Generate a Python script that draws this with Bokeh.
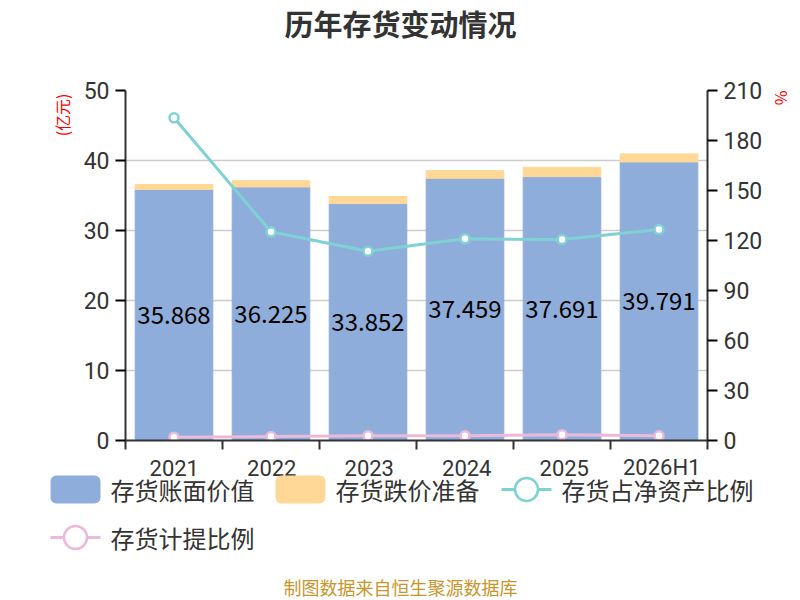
from bokeh.plotting import figure
from bokeh.layouts import column
from bokeh.models import (ColumnDataSource, Range1d, LinearAxis, FixedTicker,
                          LabelSet, Label, Title)
from bokeh.core.properties import value
from bokeh.embed import file_html
from bokeh.resources import INLINE

years = ["2021", "2022", "2023", "2024", "2025", "2026H1"]
book_value = [35.868, 36.225, 33.852, 37.459, 37.691, 39.791]   # 亿元
impairment = [0.70, 0.90, 1.00, 1.10, 1.35, 1.15]               # 亿元
inv_to_equity = [193.6, 125.2, 113.6, 121.0, 120.6, 126.6]      # %
provision_ratio = [1.9, 2.4, 2.9, 2.9, 3.5, 2.8]                # %

series_names = ["存货账面价值", "存货跌价准备", "存货占净资产比例", "存货计提比例"]

FONT = "Noto Sans CJK SC"
NUM_FONT = "Roboto"
BLUE = "#8eadda"
ORANGE = "#ffd897"
CYAN = "#7fd2d4"
PINK = "#ebb9da"
AXIS = "#333333"

W = 800
LEFT, RIGHT = 125, 710          # frame edges in px
TOP_H, MAIN_H, BOT_H = 70, 384, 146

n = len(years)
xs = [i + 0.5 for i in range(n)]
src = ColumnDataSource(dict(
    x=xs,
    book=book_value,
    total=[b + r for b, r in zip(book_value, impairment)],
    mid=[b / 2 for b in book_value],
    label=[f"{b:.3f}" for b in book_value],
    ratio=inv_to_equity,
    prov=provision_ratio,
))


def bare(fig):
    fig.axis.visible = False
    fig.grid.visible = False
    fig.outline_line_color = None
    fig.min_border = 0
    fig.frame_align = False
    return fig


# ---- title strip
top = bare(figure(width=W, height=TOP_H, output_backend="svg", toolbar_location=None,
                  title=None, x_range=Range1d(0, W), y_range=Range1d(0, TOP_H)))
top.add_layout(Label(x=W / 2, y=TOP_H - 22, x_units="screen", y_units="screen",
                     text="历年存货变动情况", text_align="center", text_baseline="middle",
                     text_font=FONT, text_font_size="29px", text_font_style="bold",
                     text_color=AXIS))

# ---- main chart
p = figure(width=W, height=MAIN_H, output_backend="svg", toolbar_location=None,
           x_range=Range1d(0, n), y_range=Range1d(0, 50),
           min_border_left=LEFT, min_border_right=W - RIGHT,
           min_border_top=20, min_border_bottom=MAIN_H - 20 - 350)
p.frame_align = False
p.outline_line_color = None
p.extra_y_ranges = {"pct": Range1d(0, 210)}

p.vbar(x="x", bottom=0, top="book", width=0.8, color=BLUE, source=src)
p.vbar(x="x", bottom="book", top="total", width=0.8, color=ORANGE, source=src)

p.line("x", "ratio", y_range_name="pct", line_width=3, color=CYAN, source=src)
p.scatter("x", "ratio", y_range_name="pct", size=9, line_width=2.5,
          line_color=CYAN, fill_color="white", source=src)
p.line("x", "prov", y_range_name="pct", line_width=3, color=PINK, source=src)
p.scatter("x", "prov", y_range_name="pct", size=9, line_width=2.5,
          line_color=PINK, fill_color="white", source=src)

p.add_layout(LabelSet(x="x", y="mid", text="label", source=src,
                      text_align="center", text_baseline="middle",
                      text_font=value(FONT), text_font_size="24px",
                      text_color="black"))

# x axis: only the boundary ticks here, the year names go in the strip below
p.xaxis.ticker = FixedTicker(ticks=xs, minor_ticks=list(range(n + 1)))
p.xaxis.major_label_overrides = {x: "" for x in xs}
p.xaxis.major_label_text_font_size = "1px"
p.xaxis.major_label_standoff = 0
p.xaxis.major_tick_line_color = None
p.xaxis.minor_tick_out = 9
p.xaxis.minor_tick_in = 0
p.xaxis.minor_tick_line_color = AXIS
p.xaxis.minor_tick_line_width = 2

p.yaxis.ticker = FixedTicker(ticks=[0, 10, 20, 30, 40, 50])
p.yaxis.minor_tick_line_color = None
right = LinearAxis(y_range_name="pct", ticker=FixedTicker(ticks=list(range(0, 211, 30))))
right.minor_tick_line_color = None
p.add_layout(right, "right")

for ax in p.xaxis + p.yaxis:
    ax.axis_line_color = AXIS
    ax.axis_line_width = 2
for ax in p.yaxis:
    ax.major_tick_out = 10
    ax.major_tick_in = 0
    ax.major_tick_line_width = 2
    ax.major_label_text_font = NUM_FONT
    ax.major_label_text_font_size = "23px"
    ax.major_label_text_color = AXIS
    ax.major_label_standoff = 6

p.xgrid.grid_line_color = None
p.ygrid.ticker = FixedTicker(ticks=[0, 10, 20, 30, 40, 50])
p.ygrid.grid_line_color = "#cccccc"
p.ygrid.grid_line_width = 1.5

p.add_layout(Title(text="(亿元)", align="right", offset=3, standoff=14,
                   text_font=FONT, text_font_size="16px", text_color="red",
                   text_font_style="normal"), "left")
p.add_layout(Title(text="%", align="left", standoff=9,
                   text_font=FONT, text_font_size="16px", text_color="red",
                   text_font_style="normal"), "right")

# ---- bottom strip: year names, legend, source note (px from its top-left)
scale = (RIGHT - LEFT) / n
bot = bare(figure(width=W, height=BOT_H, output_backend="svg", toolbar_location=None,
                  title=None,
                  x_range=Range1d(-LEFT / scale, (W - LEFT) / scale),
                  y_range=Range1d(BOT_H, 0)))
bot.text(x=xs, y=[13] * n, text=years, text_align="center", text_baseline="middle",
         text_font=value(NUM_FONT), text_font_size="22px", text_color=AXIS)

SW, SH = 50, 28                      # swatch size
item_x = [50, 275, 501, 50]          # left edge of each legend item
item_y = [35, 35, 35, 83]            # row centres
kinds = ["box", "box", "line", "line"]
colors = [BLUE, ORANGE, CYAN, PINK]


def px(v):
    return (v - LEFT) / scale       # horizontal pixel -> x data of this strip


for name, x0, yc, kind, c in zip(series_names, item_x, item_y, kinds, colors):
    if kind == "box":
        bot.quad(left=px(x0), right=px(x0 + SW), top=yc - SH / 2, bottom=yc + SH / 2,
                 fill_color=c, line_color=None, border_radius=6)
    else:
        bot.line([px(x0), px(x0 + SW)], [yc, yc], line_width=3, color=c)
        bot.scatter([px(x0 + SW / 2)], [yc], size=23, line_width=2.5, line_color=c,
                    fill_color="white")
    bot.text([px(x0 + SW + 10)], [yc], text=[name], text_align="left",
             text_baseline="middle", text_font=value(FONT), text_font_size="24px",
             text_color=AXIS)

bot.text([px(W / 2)], [132], text=["制图数据来自恒生聚源数据库"], text_align="center",
         text_baseline="middle", text_font=value(FONT), text_font_size="18px",
         text_color="#c9952b")

p = column(top, p, bot, spacing=0)
open("out.html", "w").write(file_html(p, INLINE))
